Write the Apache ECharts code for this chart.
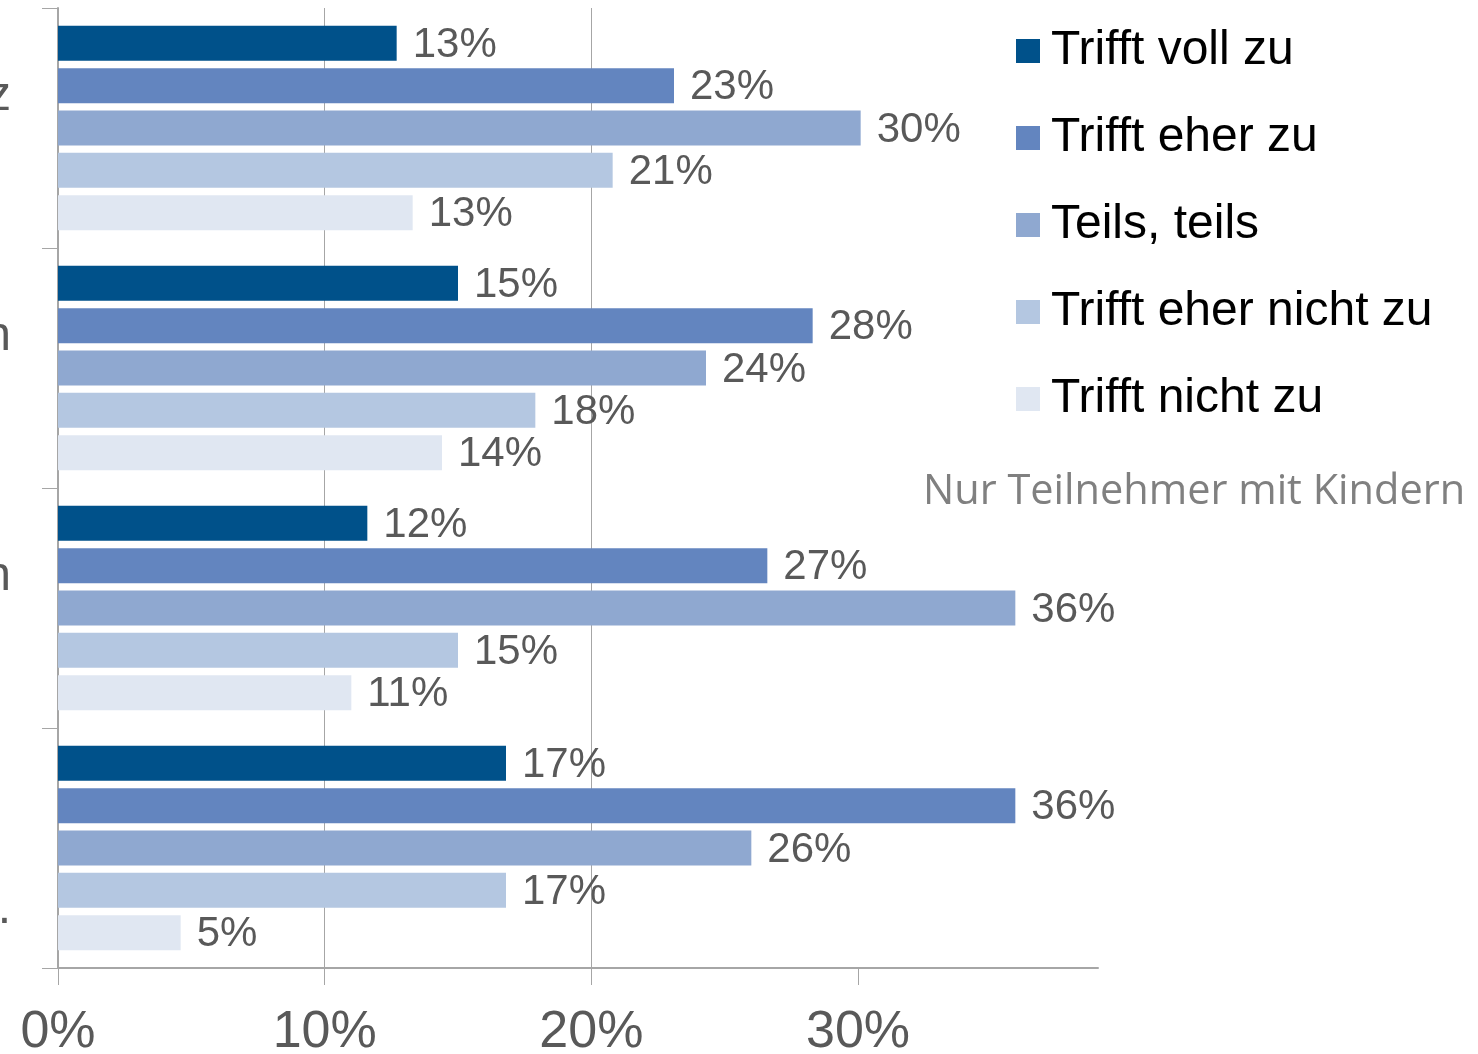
<!DOCTYPE html>
<html lang="de">
  <head>
    <meta charset="UTF-8">
    <title>Zustimmung – Nur Teilnehmer mit Kindern</title>
    <script src="https://cdn.jsdelivr.net/npm/echarts@6/dist/echarts.min.js"></script>
    <style>
      html, body { margin: 0; padding: 0; background: #fff; }
    </style>
  </head>
  <body>
    <div id="main" style="width: 1478px;height:1054px;"></div>
    <script type="text/javascript">
      // Kategorien (links abgeschnitten, nur das letzte Zeichen ist sichtbar)
      var categories = ['z\n', 'n\n', 'n\n', '\n\n.'];

      var seriesNames = ['Trifft voll zu', 'Trifft eher zu', 'Teils, teils', 'Trifft eher nicht zu', 'Trifft nicht zu'];
      var colors = ['#00518a', '#6385bf', '#8fa8d0', '#b4c7e1', '#e0e7f2'];

      // Werte in Prozent, von oben nach unten je Gruppe
      var trifftVoll = [12.7, 15.0, 11.6, 16.8];
      var trifftEher = [23.1, 28.3, 26.6, 35.9];
      var teilsTeils = [30.1, 24.3, 35.9, 26.0];
      var eherNicht = [20.8, 17.9, 15.0, 16.8];
      var trifftNicht = [13.3, 14.4, 11.0, 4.6];

      var xTicks = [0, 10, 20, 30];
      var note = 'Nur Teilnehmer mit Kindern';

      var values = [trifftVoll, trifftEher, teilsTeils, eherNicht, trifftNicht];
      var font = '"Liberation Sans", Arial, sans-serif';

      var myChart = echarts.init(document.getElementById('main'));

      var series = seriesNames.map(function (name, i) {
        return {
          name: name,
          type: 'bar',
          data: values[i],
          barWidth: 35,
          barGap: '21%',
          itemStyle: { color: colors[i] },
          label: {
            show: true,
            position: 'right',
            distance: 16,
            offset: [0, 2],
            fontSize: 42,
            fontFamily: font,
            color: '#595959',
            formatter: function (p) { return Math.round(p.value) + '%'; }
          }
        };
      });

      var option = {
        animation: false,
        backgroundColor: '#fff',
        grid: { left: 58, top: 8, right: 380, bottom: 86, containLabel: false, outerBoundsMode: 'none' },
        legend: {
          orient: 'vertical',
          left: 1016,
          top: 26,
          padding: 0,
          icon: 'rect',
          itemWidth: 24,
          itemHeight: 24,
          itemGap: 37,
          selectedMode: false,
          data: seriesNames,
          textStyle: {
            fontSize: 48,
            lineHeight: 50,
            fontFamily: font,
            color: '#000',
            padding: [0, 0, 0, 6]
          }
        },
        xAxis: {
          type: 'value',
          min: 0,
          max: 39,
          interval: 10,
          axisLine: { show: true, lineStyle: { color: '#a6a6a6', width: 2 } },
          axisTick: { show: true, length: 17, customValues: xTicks, lineStyle: { color: '#a6a6a6', width: 1 } },
          axisLabel: {
            customValues: xTicks,
            margin: 39,
            fontSize: 52,
            fontFamily: font,
            color: '#595959',
            formatter: '{value}%'
          },
          splitLine: { show: true, showMinLine: false, showMaxLine: false, lineStyle: { color: '#a6a6a6', width: 1 } }
        },
        yAxis: {
          type: 'category',
          inverse: true,
          data: categories,
          axisLine: { show: true, lineStyle: { color: '#a6a6a6', width: 2 } },
          axisTick: { show: true, length: 16, lineStyle: { color: '#a6a6a6', width: 1 } },
          axisLabel: {
            margin: 47,
            align: 'right',
            fontSize: 48,
            lineHeight: 62,
            fontFamily: font,
            color: '#595959'
          }
        },
        graphic: [{
          type: 'text',
          left: 923,
          top: 471,
          style: {
            text: note,
            fontSize: 41.5,
            fontFamily: '"Open Sans", sans-serif',
            fill: '#808080'
          }
        }],
        series: series
      };

      myChart.setOption(option);
    </script>
  </body>
</html>
